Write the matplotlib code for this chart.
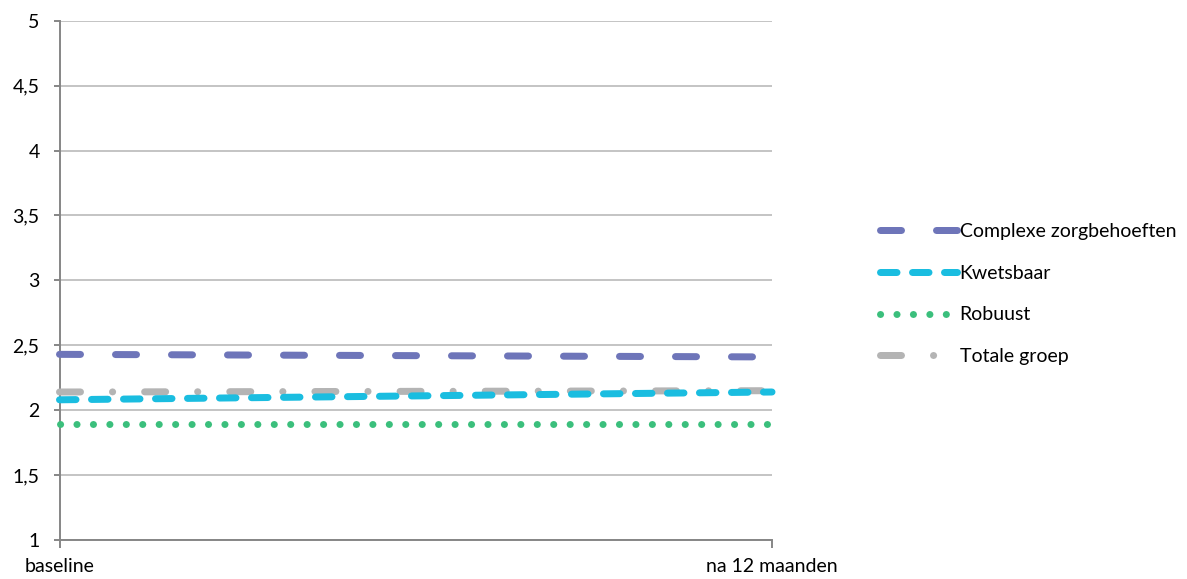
import matplotlib
matplotlib.use("Agg")
import matplotlib.pyplot as plt

plt.rcParams['font.family'] = ['Lato', 'DejaVu Sans']
plt.rcParams['lines.scale_dashes'] = False

categories = ["baseline", "na 12 maanden"]
complexe = [2.43, 2.41]
kwetsbaar = [2.08, 2.14]
robuust = [1.89, 1.89]
totale = [2.14, 2.15]
yticks = [1, 1.5, 2, 2.5, 3, 3.5, 4, 4.5, 5]
ytick_labels = [f"{v:g}".replace('.', ',') for v in yticks]

PX = 0.72  # points per pixel at dpi 100

fig = plt.figure(figsize=(11.87, 5.79), dpi=100)
ax = fig.add_axes([59.5/1187, 39/579, (772-59.5)/1187, (540-20.7)/579])

x = list(range(len(categories)))
lw = 7*PX
common = dict(lw=lw, solid_capstyle='round', dash_capstyle='round', clip_on=False)

ax.plot(x, complexe, color='#6E75B9', dashes=(21*PX, 35*PX), label='Complexe zorgbehoeften', zorder=4, **common)
ax.plot(x, totale, color='#B4B4B4', dashes=(21*PX, 32*PX, 0.1, 32*PX), label='Totale groep', zorder=3, **common)
ax.plot(x, kwetsbaar, color='#1ABDE0', dashes=(16.5*PX, 15.5*PX), label='Kwetsbaar', zorder=4, **common)
ax.plot(x, robuust, color='#3BBF7C', dashes=(0.1, 16.3*PX), label='Robuust', zorder=4, **common)

ax.set_xlim(0, 1)
ax.set_ylim(1, 5)
ax.set_yticks(yticks)
ax.set_yticklabels(ytick_labels)
ax.set_xticks(x)
ax.set_xticklabels(categories)

ax.yaxis.grid(True, color='#BFBFBF', lw=1.3)
ax.set_axisbelow(True)
for s in ['top', 'right']:
    ax.spines[s].set_visible(False)
for s in ['left', 'bottom']:
    ax.spines[s].set_color('#868686')
    ax.spines[s].set_linewidth(1.4)
ax.tick_params(axis='y', direction='out', length=4.3, width=1.4, color='#868686',
               labelsize=14, pad=10, labelcolor='#000000')
ax.tick_params(axis='x', direction='out', length=6, width=1.4, color='#868686',
               labelsize=14, pad=7, labelcolor='#000000')

handles, labels = ax.get_legend_handles_labels()
order = ['Complexe zorgbehoeften', 'Kwetsbaar', 'Robuust', 'Totale groep']
hmap = dict(zip(labels, handles))
leg = fig.legend([hmap[o] for o in order], order, loc='center left',
                 bbox_to_anchor=(862/1187, 1 - 294/579), frameon=False, fontsize=14,
                 handlelength=4.0, handletextpad=0.12, labelspacing=1.27)

fig.savefig('out.png', dpi=100)
